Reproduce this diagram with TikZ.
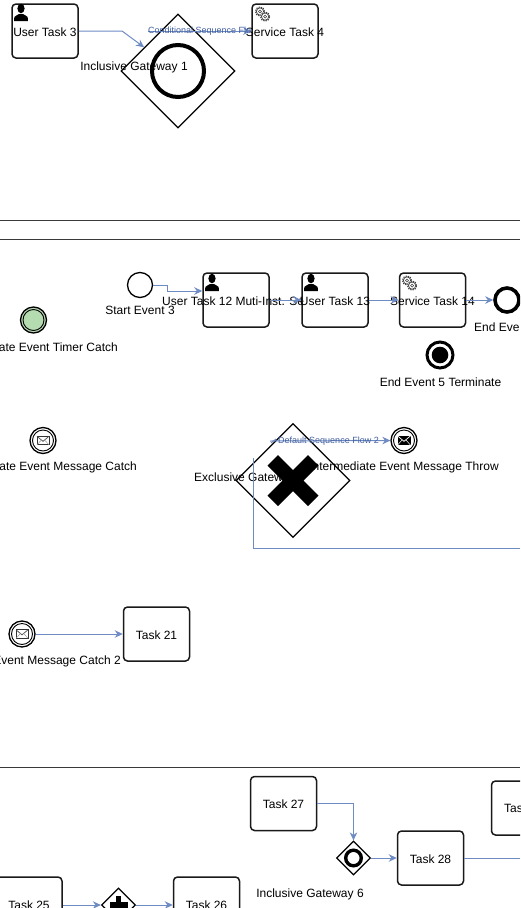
\documentclass[tikz,border=0pt]{standalone}
\usepackage{fontspec}
\setmainfont{Liberation Sans}
\usetikzlibrary{shapes.geometric,arrows.meta}
\newcommand\ctext[1]{\raisebox{-5pt}[0pt][0pt]{\makebox[0pt]{#1}}}
\definecolor{flowblue}{HTML}{6F8BC4}
\definecolor{flowtext}{HTML}{3F5E9E}
\definecolor{laneline}{HTML}{3A3A3A}
\definecolor{timergreen}{HTML}{B5DBB1}
\tikzset{
  txt/.style={font=\fontsize{12}{14}\selectfont,inner sep=0pt,text=black},
  flowlabel/.style={font=\fontsize{9}{11}\selectfont,inner sep=0pt,text=flowtext},
  taskbox/.style={draw=black!90,line width=1.5pt,rounded corners=4pt,minimum width=66pt,minimum height=54pt,inner sep=0pt,font=\fontsize{12}{14}\selectfont},
  flow/.style={draw=flowblue,line width=1pt,-{Stealth[length=8pt,width=7.5pt]}},
  plainflow/.style={draw=flowblue,line width=1pt},
  lane/.style={draw=laneline,line width=0.8pt},
  evt/.style={circle,draw=black,inner sep=0pt,line width=1.3pt},
  gw/.style={diamond,draw=black,inner sep=0pt,line width=1.3pt,aspect=1},
  usericon/.pic={
    \fill[black] (0,-4.5) ellipse [x radius=3.6pt,y radius=4.8pt];
    \fill[black] (-6.8,8) -- (-6.8,5) .. controls (-6.8,2.5) and (-3,2.5) .. (-2,1) -- (2,1) .. controls (3,2.5) and (6.8,2.5) .. (6.8,5) -- (6.8,8) -- cycle;
  },
  gearicon/.pic={
    \foreach \p in {(-2.5,-2.5),(2.6,2.6)}{
      \fill[white] \p circle [radius=5pt];
      \draw[black!75,line width=1pt,dash pattern=on 1.3pt off 1.1pt] \p circle [radius=4.6pt];
      \draw[black!75,line width=0.7pt] \p circle [radius=3.6pt];
      \draw[black!75,line width=0.6pt] \p circle [radius=1.5pt];
    }
  },
  envcatch/.pic={
    \draw[black!80,fill=white,line width=0.8pt] (-6,-4.2) rectangle (6,4.2);
    \draw[black!70,line width=0.7pt] (-6,-4.2) -- (0,0.8) -- (6,-4.2);
    \draw[black!40,line width=0.5pt] (-6,4.2) -- (-1.5,-0.5) (6,4.2) -- (1.5,-0.5);
  },
  envthrow/.pic={
    \fill[black] (-6.5,-4.6) rectangle (6.5,4.6);
    \draw[white,line width=0.7pt] (-6.5,-4.6) -- (0,0.8) -- (6.5,-4.6);
    \draw[white,line width=0.5pt] (-6.5,4.6) -- (-1.8,-0.7) (6.5,4.6) -- (1.8,-0.7);
  }
}
\begin{document}
\begin{tikzpicture}[x=1pt,y=-1pt]
\useasboundingbox (0,0) rectangle (520,908);
\clip (0,0) rectangle (520,908);
% lanes
\coordinate (l1a) at (0,220); \coordinate (l1b) at (520,220);
\coordinate (l2a) at (0,239); \coordinate (l2b) at (520,239);
\coordinate (l3a) at (0,767.5); \coordinate (l3b) at (520,767.5);
\draw[lane] (l1a) -- (l1b);
\draw[lane] (l2a) -- (l2b);
\draw[lane] (l3a) -- (l3b);
% first lane
\node[taskbox] (ut3) at (45,31) {\ctext{User Task 3}};
\node[taskbox] (st4) at (285,31) {\ctext{Service Task 4}};
\node[gw,minimum width=114pt,minimum height=114pt] (ig1) at (178,71) {};
\draw[black,line width=4pt] (ig1.center) circle [radius=26pt];
\pic at (21,13) {usericon};
\pic at (262.5,14) {gearicon};
\coordinate (cfs) at (148,31);
\draw[flow] (ut3.east) -- (122,31) -- (ig1.145);
\draw[flow] (cfs) -- (st4.west);
\node[txt,anchor=center] (ig1l) at (134,67) {Inclusive Gateway 1};
\node[flowlabel,anchor=west] (cf1) at (148,31.5) {Conditional Sequence Flo};
% second lane
\node[evt,minimum size=25pt] (se3) at (140,285) {};
\node[txt] (se3l) at (140,310.5) {Start Event 3};
\node[taskbox] (ut12) at (236,300) {};
\node[txt,anchor=west] (ut12l) at (162,300.8) {User Task 12 Muti-Inst. Se};
\node[taskbox] (ut13) at (335,300) {\ctext{User Task 13}};
\node[taskbox] (st14) at (432.5,300) {\ctext{Service Task 14}};
\pic at (212,283) {usericon};
\pic at (311,283) {usericon};
\pic at (409.5,283) {gearicon};
\node[evt,minimum size=24pt,line width=3.6pt] (ee4) at (507,300) {};
\node[txt,anchor=west] (ee4l) at (474,327.5) {End Eve};
\node[evt,minimum size=26pt,line width=3pt] (ee5) at (440,355) {};
\fill[black] (ee5.center) circle [radius=8.3pt];
\node[txt] (ee5l) at (440.5,382) {End Event 5 Terminate};
\coordinate (ut12in) at (ut12.west |- 0,291);
\draw[flow] (se3.east) -- (167,285) -- (167,291) -- (ut12in);
\draw[flow] (ut12.east) -- (ut13.west);
\draw[flow] (ut13.east) -- (st14.west);
\draw[flow] (st14.east) -- (ee4.west);
\node[evt,minimum size=26pt,fill=timergreen] (tc) at (33.5,320) {};
\draw[black,line width=0.9pt] (tc.center) circle [radius=10.5pt];
\node[txt,anchor=east] (tcl) at (118,347.5) {ate Event Timer Catch};
\node[evt,minimum size=26pt] (mc) at (43,440.5) {};
\draw[black,line width=0.9pt] (mc.center) circle [radius=10.5pt];
\pic at (mc.center) {envcatch};
\node[txt,anchor=east] (mcl) at (137,467) {ate Event Message Catch};
% exclusive gateway group
\node[txt,anchor=west] (xgl) at (194,477.5) {Exclusive Gatew};
\node[txt] (mtl) at (404,467) {Intermediate Event Message Throw};
\node[gw,minimum width=114pt,minimum height=114pt] (xg) at (293,480.5) {};
\fill[black] (xg.center) ++(-25.5,-15) -- ++(10.5,-10.5) -- ++(15,15) -- ++(15,-15) -- ++(10.5,10.5) -- ++(-15,15) -- ++(15,15) -- ++(-10.5,10.5) -- ++(-15,-15) -- ++(-15,15) -- ++(-10.5,-10.5) -- ++(15,-15) -- cycle;
\node[evt,minimum size=26pt] (mt) at (404,440.5) {};
\draw[black,line width=0.9pt] (mt.center) circle [radius=10.5pt];
\pic at (mt.center) {envthrow};
\coordinate (df) at (270,441);
\coordinate (dft) at (253,458);
\coordinate (loopc) at (253,548);
\coordinate (loopr) at (520,548);
\draw[flow] (df) -- (mt.west);
\draw[plainflow] (271,443) -- (276,439);
\node[flowlabel] (df2) at (328.5,441) {Default Sequence Flow 2};
\draw[plainflow] (dft) -- (loopc) -- (loopr);
% message catch 2
\node[evt,minimum size=26pt] (mc2) at (22,634) {};
\draw[black,line width=0.9pt] (mc2.center) circle [radius=10.5pt];
\pic at (mc2.center) {envcatch};
\node[txt,anchor=east] (mc2l) at (121,661.5) {Event Message Catch 2};
\node[taskbox] (t21) at (156.5,634) {\ctext{Task 21}};
\draw[flow] (mc2.east) -- (t21.west);
% third lane
\node[taskbox] (t27) at (283.5,803.5) {\ctext{Task 27}};
\node[taskbox] (t28) at (430.5,858) {\ctext{Task 28}};
\node[taskbox] (t29) at (524.5,808) {};
\node[txt,anchor=west] (t29l) at (504,808.8) {Tas};
\node[taskbox] (t25) at (29,904) {\ctext{Task 25}};
\node[taskbox] (t26) at (206.5,904) {\ctext{Task 26}};
\node[gw,minimum width=34pt,minimum height=34pt] (ig6) at (353.5,858) {};
\draw[black,line width=3.4pt] (ig6.center) circle [radius=7.8pt];
\node[txt] (ig6l) at (310,894) {Inclusive Gateway 6};
\node[gw,minimum width=34pt,minimum height=34pt] (pg) at (118.5,905) {};
\fill[black] (pg.center) ++(-2.8,-9) rectangle ++(5.6,18);
\fill[black] (pg.center) ++(-9,-2.8) rectangle ++(18,5.6);
\draw[flow] (t27.east) -- (353.5,803.5) -- (ig6.north);
\draw[flow] (ig6.east) -- (t28.west);
\coordinate (t28r) at (520,858);
\draw[plainflow] (t28.east) -- (t28r);
\coordinate (t25r) at (t25.east |- pg.west);
\coordinate (t26l) at (t26.west |- pg.east);
\draw[flow] (t25r) -- (pg.west);
\draw[flow] (pg.east) -- (t26l);
\end{tikzpicture}
\end{document}
